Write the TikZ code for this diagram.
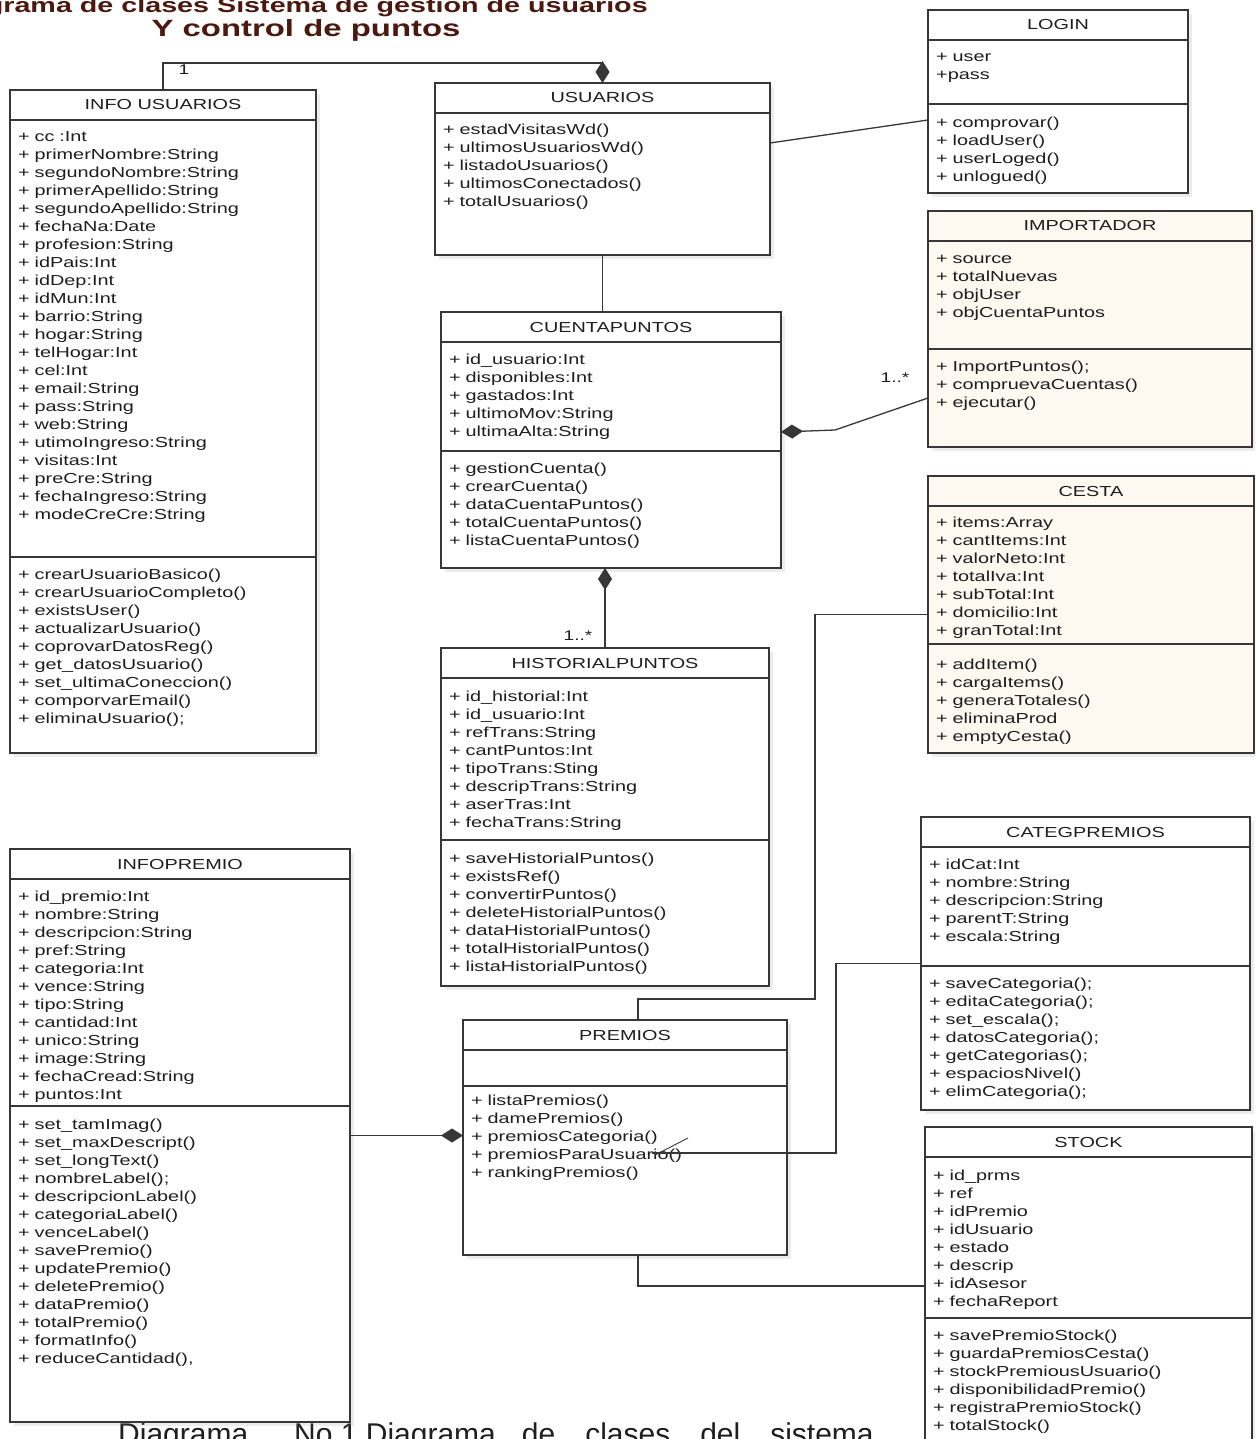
\documentclass[tikz,border=0pt]{standalone}
\usepackage{fontspec}
\setmainfont{Liberation Sans}
\newfontfamily\umlfont{Liberation Sans}[FakeStretch=1.37]
\newfontfamily\ttlfont{Liberation Sans}[FakeStretch=1.4]
\usetikzlibrary{calc,arrows.meta,shadows}
\definecolor{ln}{RGB}{55,55,55}
\definecolor{tx}{RGB}{30,30,30}
\definecolor{cream}{RGB}{253,249,240}
\definecolor{maroon}{RGB}{75,25,15}
\tikzset{
 cls/.style={draw=ln, line width=1.3pt, fill=white, anchor=north west, inner sep=0pt, outer sep=0pt,
   drop shadow={shadow xshift=4pt, shadow yshift=-4pt, opacity=0.15}},
 ttl/.style={anchor=base, inner sep=0pt, text=tx, font=\umlfont\fontsize{14.5}{18}\selectfont},
 lst/.style={anchor=north west, inner sep=0pt, text=tx, align=left, text width=#1, font=\umlfont\fontsize{14.5}{18}\selectfont},
 sepl/.style={draw=ln, line width=1.3pt},
 conn/.style={draw=ln, line width=1.3pt},
 comp/.style={conn, -{Diamond[length=22pt,width=14pt]}},
 lbl/.style={inner sep=0pt, text=tx, font=\umlfont\fontsize{14}{16}\selectfont},
}
\newcommand\umlbox[6]{%
  \node[cls, fill=#5, minimum width=#3pt, minimum height=#4pt] (#1) at (#2) {};
  \node[ttl] (#1-t) at ($(#1.north)+(0,20)$) {#6};
  \draw[sepl] ($(#1.north west)+(0,30)$) -- ($(#1.north east)+(0,30)$);}
\newcommand\umlsep[2]{\draw[sepl] ($(#1.north west)+(0,#2)$) -- ($(#1.north east)+(0,#2)$);}
\newcommand\umllist[4]{\node[lst=#3] (#1) at (#2) {\strut #4};}
\begin{document}
\begin{tikzpicture}[x=1pt,y=-1pt]
\useasboundingbox (0,0) rectangle (1255,1439);
\clip (0,0) rectangle (1255,1439);
\fill[white] (0,0) rectangle (1255,1439);

% title
\node[anchor=base east, inner sep=0pt, text=maroon, font=\ttlfont\bfseries\fontsize{20.5}{23}\selectfont] (t1) at (648,13) {Diagrama de clases Sistema de gestion de usuarios};
\node[anchor=base, inner sep=0pt, text=maroon, font=\ttlfont\bfseries\fontsize{23.5}{26}\selectfont] (t2) at (306,37) {Y control de puntos};

% caption (partly hidden, as in the original)
\node[anchor=base west, inner sep=0pt, text=tx, font=\fontsize{30}{34}\selectfont] (cap) at (118,1444)
  {Diagrama\hspace{46pt}No 1 Diagrama\hspace{26pt}de\hspace{30pt}clases\hspace{30pt}del\hspace{30pt}sistema};

% INFO USUARIOS
\umlbox{iu}{10,90}{306}{663}{white}{INFO USUARIOS}
\umlsep{iu}{467}
\umllist{iu-a}{18,128.4}{292pt}{+ cc :Int\\+ primerNombre:String\\+ segundoNombre:String\\+ primerApellido:String\\+ segundoApellido:String\\+ fechaNa:Date\\+ profesion:String\\+ idPais:Int\\+ idDep:Int\\+ idMun:Int\\+ barrio:String\\+ hogar:String\\+ telHogar:Int\\+ cel:Int\\+ email:String\\+ pass:String\\+ web:String\\+ utimoIngreso:String\\+ visitas:Int\\+ preCre:String\\+ fechaIngreso:String\\+ modeCreCre:String}
\umllist{iu-m}{18,566.4}{292pt}{+ crearUsuarioBasico()\\+ crearUsuarioCompleto()\\+ existsUser()\\+ actualizarUsuario()\\+ coprovarDatosReg()\\+ get\_datosUsuario()\\+ set\_ultimaConeccion()\\+ comporvarEmail()\\+ eliminaUsuario();}

% USUARIOS
\umlbox{usu}{435,83}{335}{172}{white}{USUARIOS}
\umllist{usu-m}{443,121.4}{320pt}{+ estadVisitasWd()\\+ ultimosUsuariosWd()\\+ listadoUsuarios()\\+ ultimosConectados()\\+ totalUsuarios()}

% LOGIN
\umlbox{lg}{928,10}{260}{183}{white}{LOGIN}
\umlsep{lg}{94}
\umllist{lg-a}{936,48.4}{246pt}{+ user\\+pass}
\umllist{lg-m}{936,114.4}{246pt}{+ comprovar()\\+ loadUser()\\+ userLoged()\\+ unlogued()}

% IMPORTADOR
\umlbox{imp}{928,211}{324}{236}{cream}{IMPORTADOR}
\umlsep{imp}{138}
\umllist{imp-a}{936,250.4}{310pt}{+ source\\+ totalNuevas\\+ objUser\\+ objCuentaPuntos}
\umllist{imp-m}{936,358.4}{310pt}{+ ImportPuntos();\\+ compruevaCuentas()\\+ ejecutar()}

% CUENTAPUNTOS
\umlbox{cp}{441,312}{340}{256}{white}{CUENTAPUNTOS}
\umlsep{cp}{139}
\umllist{cp-a}{449,351.4}{326pt}{+ id\_usuario:Int\\+ disponibles:Int\\+ gastados:Int\\+ ultimoMov:String\\+ ultimaAlta:String}
\umllist{cp-m}{449,460.4}{326pt}{+ gestionCuenta()\\+ crearCuenta()\\+ dataCuentaPuntos()\\+ totalCuentaPuntos()\\+ listaCuentaPuntos()}

% CESTA
\umlbox{ce}{928,476}{326}{277}{cream}{CESTA}
\umlsep{ce}{168}
\umllist{ce-a}{936,514.4}{312pt}{+ items:Array\\+ cantItems:Int\\+ valorNeto:Int\\+ totalIva:Int\\+ subTotal:Int\\+ domicilio:Int\\+ granTotal:Int}
\umllist{ce-m}{936,656.4}{312pt}{+ addItem()\\+ cargaItems()\\+ generaTotales()\\+ eliminaProd\\+ emptyCesta()}

% HISTORIALPUNTOS
\umlbox{hp}{441,648}{328}{338}{white}{HISTORIALPUNTOS}
\umlsep{hp}{192}
\umllist{hp-a}{449,688.4}{314pt}{+ id\_historial:Int\\+ id\_usuario:Int\\+ refTrans:String\\+ cantPuntos:Int\\+ tipoTrans:Sting\\+ descripTrans:String\\+ aserTras:Int\\+ fechaTrans:String}
\umllist{hp-m}{449,850.4}{314pt}{+ saveHistorialPuntos()\\+ existsRef()\\+ convertirPuntos()\\+ deleteHistorialPuntos()\\+ dataHistorialPuntos()\\+ totalHistorialPuntos()\\+ listaHistorialPuntos()}

% INFOPREMIO
\umlbox{ip}{10,849}{340}{573}{white}{INFOPREMIO}
\umlsep{ip}{257}
\umllist{ip-a}{18,888.4}{326pt}{+ id\_premio:Int\\+ nombre:String\\+ descripcion:String\\+ pref:String\\+ categoria:Int\\+ vence:String\\+ tipo:String\\+ cantidad:Int\\+ unico:String\\+ image:String\\+ fechaCread:String\\+ puntos:Int}
\umllist{ip-m}{18,1116.4}{326pt}{+ set\_tamImag()\\+ set\_maxDescript()\\+ set\_longText()\\+ nombreLabel();\\+ descripcionLabel()\\+ categoriaLabel()\\+ venceLabel()\\+ savePremio()\\+ updatePremio()\\+ deletePremio()\\+ dataPremio()\\+ totalPremio()\\+ formatInfo()\\+ reduceCantidad(),}

% PREMIOS
\umlbox{pr}{463,1020}{324}{235}{white}{PREMIOS}
\umlsep{pr}{66}
\umllist{pr-m}{471,1092.4}{310pt}{+ listaPremios()\\+ damePremios()\\+ premiosCategoria()\\+ premiosParaUsuario()\\+ rankingPremios()}

% CATEGPREMIOS
\umlbox{cat}{921,817}{329}{293}{white}{CATEGPREMIOS}
\umlsep{cat}{149}
\umllist{cat-a}{929,856.4}{315pt}{+ idCat:Int\\+ nombre:String\\+ descripcion:String\\+ parentT:String\\+ escala:String}
\umllist{cat-m}{929,975.4}{315pt}{+ saveCategoria();\\+ editaCategoria();\\+ set\_escala();\\+ datosCategoria();\\+ getCategorias();\\+ espaciosNivel()\\+ elimCategoria();}

% STOCK
\umlbox{st}{925,1127}{327}{330}{white}{STOCK}
\umlsep{st}{191}
\umllist{st-a}{933,1167.4}{313pt}{+ id\_prms\\+ ref\\+ idPremio\\+ idUsuario\\+ estado\\+ descrip\\+ idAsesor\\+ fechaReport}
\umllist{st-m}{933,1327.4}{313pt}{+ savePremioStock()\\+ guardaPremiosCesta()\\+ stockPremiousUsuario()\\+ disponibilidadPremio()\\+ registraPremioStock()\\+ totalStock()}

% connectors
\draw[comp] (iu.north) -- ++(0,-27) -| (usu.north);
\draw[conn] ([yshift=26pt]usu.east) -- ([yshift=-18.5pt]lg.west);
\draw[conn] (usu.south) -- (usu.south |- cp.north);
\coordinate (k4) at (835,430);
\draw[comp] ([yshift=-69pt]imp.west) -- (k4) -- ([yshift=8pt]cp.east);
\draw[comp] (hp.north) -- (hp.north |- cp.south);
\draw[comp] (ip.east) -- (ip.east -| pr.west);
\coordinate (k7) at (815,999);
\draw[conn] ([xshift=13pt]pr.north) |- (k7) |- (ce.west);
\coordinate (k8s) at (652,1153);
\coordinate (k8) at (836,1153);
\draw[conn] (k8s) -- (k8) |- (cat.west);
\coordinate (s1) at (655,1155);
\coordinate (s2) at (688,1138);
\draw[conn, line width=0.9pt] (s1) -- (s2);
\draw[conn] ([xshift=13pt]pr.south) |- ([yshift=6pt]st.west);

% labels
\node[lbl] (l1) at (184,70) {1};
\node[lbl] (l2) at (895,378) {1..*};
\node[lbl] (l3) at (578,636) {1..*};
\end{tikzpicture}
\end{document}
